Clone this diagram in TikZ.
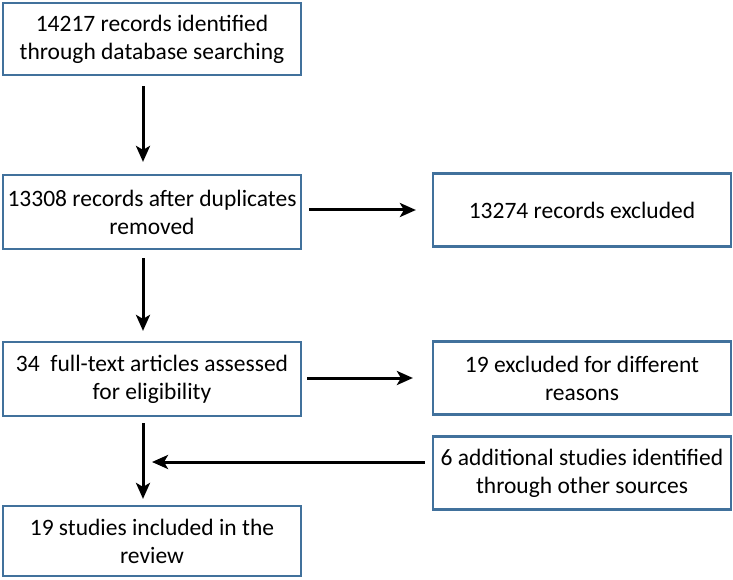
\documentclass[tikz,border=0pt]{standalone}
\usepackage{fontspec}
\setmainfont{Carlito}
\usetikzlibrary{arrows.meta}
\begin{document}
\begin{tikzpicture}[x=1pt,y=1pt,
  box/.style={draw=boxblue, line width=2.2pt, minimum width=298pt, inner sep=0pt, align=center, font=\fontsize{23.5}{28}\selectfont, fill=white},
  arr/.style={draw=black, line width=3pt, -{Stealth[length=16pt,width=14pt,inset=4pt]}}]
\definecolor{boxblue}{HTML}{41719C}
\useasboundingbox (0,0) rectangle (733,579);
\node[box, minimum height=72pt] (b1) at (152,540) {14217 records identified\\through database searching};
\node[box, minimum height=74pt] (b2) at (152,367) {13308 records after duplicates\\removed};
\node[box, minimum height=74pt] (b3) at (152,200) {34\ \ full-text articles assessed\\for eligibility};
\node[box, minimum height=70pt] (b4) at (152,38) {19 studies included in the\\review};
\node[box, minimum height=73pt] (r1) at (582,369) {13274 records excluded};
\node[box, minimum height=73pt] (r2) at (582,201) {19 excluded for different\\reasons};
\node[box, minimum height=73pt] (r3) at (582,106) {6 additional studies identified\\through other sources};
\coordinate (m) at (152,117);
\draw[arr, shorten <=10pt, shorten >=12pt] ([xshift=-9pt]b1.south) -- ([xshift=-9pt]b2.north);
\draw[arr, shorten <=8pt, shorten >=10pt] ([xshift=-9pt]b2.south) -- ([xshift=-9pt]b3.north);
\draw[arr, shorten <=6pt, shorten >=6pt] ([xshift=-9pt]b3.south) -- ([xshift=-9pt]b4.north);
\draw[arr, shorten <=7pt, shorten >=16pt] (b2.east |- r1.west) -- (r1.west);
\draw[arr, shorten <=5pt, shorten >=19pt] (b3.east |- r2.west) -- (r2.west);
\draw[arr, shorten <=7pt] (r3.west |- m) -- (m);
\end{tikzpicture}
\end{document}
